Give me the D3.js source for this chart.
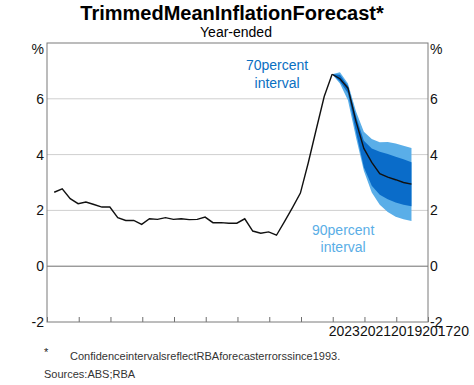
<!DOCTYPE html>
<html>
<head>
<meta charset="utf-8">
<script src="https://cdn.jsdelivr.net/npm/d3@7"></script>
<style>
	body { margin: 0; background: #fff; }
	svg { font-family: "Liberation Sans", Arial, sans-serif; }
	.grid line { stroke: #cfcfcf; }
	.tick_label { font-size: 14px; fill: #111; }
</style>
</head>
<body>
<div id="chart"></div>
<script>

// history, year-ended trimmed mean (%)
const historyQuarters = [
	"2014Q1","2014Q2","2014Q3","2014Q4","2015Q1","2015Q2","2015Q3","2015Q4",
	"2016Q1","2016Q2","2016Q3","2016Q4","2017Q1","2017Q2","2017Q3","2017Q4",
	"2018Q1","2018Q2","2018Q3","2018Q4","2019Q1","2019Q2","2019Q3","2019Q4",
	"2020Q1","2020Q2","2020Q3","2020Q4","2021Q1","2021Q2","2021Q3","2021Q4",
	"2022Q1","2022Q2","2022Q3","2022Q4"];
const historyValues = [
	2.65, 2.77, 2.42, 2.24, 2.30, 2.21, 2.12, 2.12,
	1.74, 1.64, 1.64, 1.50, 1.70, 1.68, 1.74, 1.68,
	1.70, 1.67, 1.68, 1.76, 1.56, 1.56, 1.54, 1.54,
	1.70, 1.26, 1.18, 1.23, 1.11, 1.60, 2.10, 2.62,
	3.70, 4.90, 6.08, 6.88];

// forecast and confidence intervals
const forecastQuarters = ["2022Q4","2023Q1","2023Q2","2023Q3","2023Q4","2024Q1",
	"2024Q2","2024Q3","2024Q4","2025Q1","2025Q2"];
const forecastCentral = [6.88, 6.72, 6.38, 5.20, 4.22, 3.72, 3.32, 3.19, 3.10, 3.00, 2.94];
const upper90 = [6.88, 6.95, 6.55, 5.55, 4.82, 4.56, 4.44, 4.45, 4.40, 4.32, 4.24];
const lower90 = [6.88, 6.55, 5.95, 4.62, 3.42, 2.64, 2.20, 1.94, 1.77, 1.68, 1.62];
const upper70 = [6.88, 6.86, 6.47, 5.38, 4.50, 4.22, 4.10, 4.02, 3.92, 3.83, 3.73];
const lower70 = [6.88, 6.62, 6.20, 4.82, 3.55, 2.88, 2.56, 2.40, 2.28, 2.20, 2.15];

// axis labels
const yTicks = [-2, 0, 2, 4, 6];
const yGrid = [2, 4, 6];
const xTickLabels = ["2023", "2021", "2019", "2017", "2015"];

// quarter string -> date near the end of the quarter
function parseQuarter(s) {
	let year = +s.slice(0, 4);
	let q = +s.slice(5);
	return new Date(year, q * 3 - 1, 25);
}

let history = historyQuarters.map((q, i) => ({date: parseQuarter(q), value: historyValues[i]}));
let forecast = forecastQuarters.map((q, i) => ({
	date: parseQuarter(q),
	central: forecastCentral[i],
	u90: upper90[i], l90: lower90[i],
	u70: upper70[i], l70: lower70[i]
}));

let margin = {top: 43, right: 46, bottom: 63, left: 47};
let totalW = 474, totalH = 385;
let width = totalW - margin.left - margin.right;
let height = totalH - margin.top - margin.bottom;

let svg = d3.select("#chart")
	.append("svg")
	.attr("width", totalW)
	.attr("height", totalH);

let g = svg.append("g")
	.attr("transform", "translate(" + margin.left + "," + margin.top + ")");

//scales
let x = d3.scaleTime()
	.domain([new Date(2014, 0, 1), new Date(2026, 0, 1)])
	.range([0, width]);

let y = d3.scaleLinear()
	.domain([-2, 8])
	.range([height, 0]);

//gridlines
g.append("g")
	.attr("class", "grid")
	.selectAll("line")
	.data(yGrid)
	.enter()
	.append("line")
	.attr("x1", 0)
	.attr("x2", width)
	.attr("y1", d => y(d))
	.attr("y2", d => y(d));

//zero line
g.append("line")
	.attr("x1", 0)
	.attr("x2", width)
	.attr("y1", y(0))
	.attr("y2", y(0))
	.attr("stroke", "#6e6e6e");

//year ticks, pointing inward from the bottom
g.append("g")
	.attr("transform", "translate(0," + height + ")")
	.call(d3.axisTop(x).ticks(d3.timeYear.every(1)).tickSize(5).tickFormat(""))
	.call(s => s.select(".domain").remove())
	.selectAll("line")
	.attr("stroke", "#6e6e6e");

//confidence bands
let area90 = d3.area()
	.x(d => x(d.date))
	.y0(d => y(d.l90))
	.y1(d => y(d.u90));

let area70 = d3.area()
	.x(d => x(d.date))
	.y0(d => y(d.l70))
	.y1(d => y(d.u70));

g.append("path")
	.datum(forecast)
	.attr("d", area90)
	.attr("fill", "#5aaee8");

g.append("path")
	.datum(forecast)
	.attr("d", area70)
	.attr("fill", "#0a6cc9");

//lines
let histLine = d3.line()
	.x(d => x(d.date))
	.y(d => y(d.value));

let fcLine = d3.line()
	.x(d => x(d.date))
	.y(d => y(d.central));

g.append("path")
	.datum(history)
	.attr("d", histLine)
	.attr("fill", "none")
	.attr("stroke", "#111")
	.attr("stroke-width", 1.4);

g.append("path")
	.datum(forecast)
	.attr("d", fcLine)
	.attr("fill", "none")
	.attr("stroke", "#111")
	.attr("stroke-width", 1.4);

//frame
g.append("rect")
	.attr("width", width)
	.attr("height", height)
	.attr("fill", "none")
	.attr("stroke", "#7a7a7a");

//y tick labels both sides
g.selectAll(".yl")
	.data(yTicks)
	.enter()
	.append("text")
	.attr("class", "tick_label")
	.attr("text-anchor", "end")
	.attr("x", -3)
	.attr("y", d => y(d))
	.attr("dy", "0.35em")
	.text(d => d);

g.selectAll(".yr")
	.data(yTicks)
	.enter()
	.append("text")
	.attr("class", "tick_label")
	.attr("x", width + 2)
	.attr("y", d => y(d))
	.attr("dy", "0.35em")
	.text(d => d);

// % units
g.append("text").attr("class", "tick_label")
	.attr("text-anchor", "end").attr("x", -3).attr("y", y(8) + 11).text("%");
g.append("text").attr("class", "tick_label")
	.attr("x", width + 2).attr("y", y(8) + 11).text("%");

//x labels run together, cut at the right edge like the original
svg.append("clipPath")
	.attr("id", "xlab_clip")
	.append("rect")
	.attr("x", -margin.left)
	.attr("y", height)
	.attr("width", totalW - 4)
	.attr("height", margin.bottom);

let xl = g.append("text")
	.attr("class", "tick_label")
	.attr("clip-path", "url(#xlab_clip)")
	.attr("x", x(new Date(+xTickLabels[0], 0, 1)) - 4)
	.attr("y", height + 14);
xl.selectAll("tspan")
	.data(xTickLabels)
	.enter()
	.append("tspan")
	.text(d => d);

//band labels
g.append("text")
	.attr("text-anchor", "middle")
	.attr("fill", "#0a6fc2")
	.style("font-size", "14px")
	.attr("y", 27)
	.selectAll("tspan")
	.data(["70percent", "interval"])
	.enter()
	.append("tspan")
	.attr("x", x(new Date(2021, 3, 1)))
	.attr("dy", (d, i) => i ? 18 : 0)
	.text(d => d);

g.append("text")
	.attr("text-anchor", "middle")
	.attr("fill", "#5aaee6")
	.style("font-size", "14px")
	.attr("y", 192)
	.selectAll("tspan")
	.data(["90percent", "interval"])
	.enter()
	.append("tspan")
	.attr("x", x(new Date(2023, 4, 1)))
	.attr("dy", (d, i) => i ? 17 : 0)
	.text(d => d);

//titles
svg.append("text")
	.attr("text-anchor", "middle")
	.attr("x", 232)
	.attr("y", 19.5)
	.style("font-size", "20px")
	.style("font-weight", "bold")
	.text("TrimmedMeanInflationForecast*");

svg.append("text")
	.attr("text-anchor", "middle")
	.attr("x", 236)
	.attr("y", 37)
	.style("font-size", "14px")
	.text("Year-ended");

//notes
svg.append("text")
	.attr("x", 44)
	.attr("y", 356)
	.style("font-size", "11px")
	.attr("fill", "#222")
	.text("*");

svg.append("text")
	.attr("x", 70)
	.attr("y", 360)
	.style("font-size", "11px")
	.attr("fill", "#333")
	.text("ConfidenceintervalsreflectRBAforecasterrorssince1993.");

svg.append("text")
	.attr("x", 44)
	.attr("y", 378)
	.style("font-size", "11px")
	.attr("fill", "#333")
	.text("Sources:ABS;RBA");

</script>
</body>
</html>
